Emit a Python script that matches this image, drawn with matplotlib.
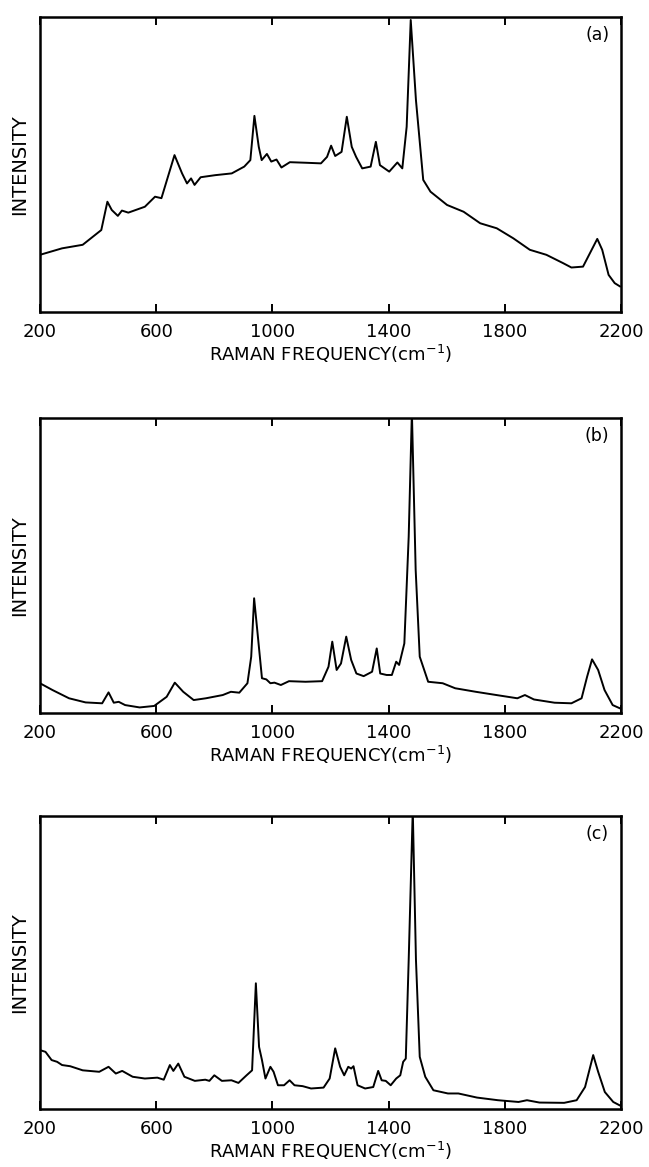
import numpy as np
import matplotlib
matplotlib.use('Agg')
import matplotlib.pyplot as plt

# spectrum (a): raman shift (cm-1) and relative intensity (0 = bottom, 1 = top of frame)
freqA = [200, 276, 347, 411, 432, 447, 468, 482, 504, 561, 596, 618, 663, 689, 706, 720,
         732, 753, 803, 860, 903, 924, 938, 953, 963, 981, 996, 1014, 1031, 1060, 1117,
         1167, 1188, 1202, 1216, 1238, 1256, 1273, 1288, 1309, 1338, 1356, 1370, 1402,
         1430, 1447, 1462, 1476, 1494, 1519, 1544, 1601, 1658, 1715, 1772, 1829, 1886,
         1943, 2000, 2029, 2069, 2093, 2118, 2135, 2157, 2178, 2196]
intA = [0.194, 0.216, 0.228, 0.278, 0.374, 0.346, 0.326, 0.344, 0.337, 0.357, 0.391, 0.386,
        0.532, 0.470, 0.436, 0.453, 0.431, 0.457, 0.464, 0.470, 0.493, 0.515, 0.665, 0.560,
        0.515, 0.536, 0.510, 0.517, 0.490, 0.508, 0.506, 0.504, 0.526, 0.564, 0.529, 0.543,
        0.662, 0.560, 0.526, 0.487, 0.493, 0.577, 0.498, 0.476, 0.507, 0.487, 0.628, 0.99,
        0.718, 0.448, 0.408, 0.363, 0.340, 0.301, 0.284, 0.250, 0.211, 0.194, 0.166, 0.151,
        0.154, 0.200, 0.248, 0.211, 0.126, 0.098, 0.087]

# spectrum (b)
freqB = [200, 243, 300, 357, 414, 436, 454, 471, 493, 543, 593, 636, 664, 693, 729, 771,
         829, 857, 886, 914, 927, 937, 950, 964, 979, 993, 1007, 1029, 1057, 1114, 1171,
         1193, 1206, 1221, 1236, 1254, 1271, 1289, 1314, 1343, 1359, 1371, 1393, 1411,
         1426, 1436, 1454, 1469, 1480, 1493, 1507, 1536, 1586, 1629, 1700, 1771, 1843,
         1869, 1900, 1971, 2029, 2064, 2083, 2100, 2121, 2143, 2171, 2196]
intB = [0.101, 0.078, 0.050, 0.036, 0.033, 0.070, 0.035, 0.038, 0.027, 0.019, 0.024, 0.055,
        0.103, 0.072, 0.044, 0.050, 0.061, 0.072, 0.069, 0.101, 0.191, 0.389, 0.259, 0.118,
        0.114, 0.101, 0.103, 0.095, 0.108, 0.106, 0.108, 0.157, 0.242, 0.146, 0.168, 0.259,
        0.180, 0.134, 0.125, 0.140, 0.219, 0.134, 0.129, 0.129, 0.174, 0.163, 0.236, 0.598,
        1.02, 0.485, 0.191, 0.106, 0.101, 0.084, 0.072, 0.061, 0.050, 0.061, 0.046, 0.035,
        0.033, 0.050, 0.123, 0.182, 0.146, 0.078, 0.027, 0.016]

# spectrum (c)
freqC = [200, 219, 240, 259, 276, 304, 347, 404, 436, 461, 483, 519, 561, 604, 626, 647,
         659, 676, 697, 733, 769, 783, 800, 826, 859, 883, 911, 930, 943, 954, 964, 976,
         993, 1004, 1019, 1040, 1059, 1076, 1104, 1133, 1176, 1197, 1216, 1233, 1247, 1261,
         1271, 1279, 1293, 1319, 1347, 1364, 1376, 1390, 1407, 1426, 1440, 1450, 1459,
         1469, 1483, 1494, 1507, 1526, 1554, 1604, 1640, 1704, 1776, 1847, 1876, 1919,
         2004, 2047, 2076, 2104, 2121, 2144, 2173, 2200]
intC = [0.201, 0.195, 0.167, 0.161, 0.150, 0.146, 0.132, 0.127, 0.144, 0.121, 0.130, 0.110,
        0.104, 0.107, 0.100, 0.150, 0.130, 0.155, 0.110, 0.096, 0.100, 0.096, 0.115, 0.096,
        0.098, 0.089, 0.115, 0.132, 0.429, 0.212, 0.167, 0.104, 0.144, 0.127, 0.081, 0.081,
        0.098, 0.081, 0.078, 0.070, 0.073, 0.104, 0.207, 0.144, 0.115, 0.144, 0.138, 0.146,
        0.081, 0.070, 0.075, 0.130, 0.098, 0.096, 0.081, 0.104, 0.115, 0.161, 0.172, 0.509,
        1.02, 0.509, 0.178, 0.110, 0.064, 0.053, 0.053, 0.039, 0.030, 0.024, 0.030, 0.022,
        0.021, 0.030, 0.075, 0.184, 0.127, 0.058, 0.024, 0.010]

panels = [('(a)', freqA, intA), ('(b)', freqB, intB), ('(c)', freqC, intC)]
xticks = [200, 600, 1000, 1400, 1800, 2200]

# axes boxes in figure fractions: left, bottom, width, height
boxes = [(0.0616, 0.7326, 0.8954, 0.2528),
         (0.0616, 0.3890, 0.8954, 0.2528),
         (0.0616, 0.0497, 0.8954, 0.2511)]

plt.rcParams['font.family'] = ['DejaVu Sans']

def main():
  fig = plt.figure(figsize=(6.49, 11.67), dpi=100)
  for (tag, f, y), box in zip(panels, boxes):
    ax = fig.add_axes(box)
    ax.plot(f, y, color='black', linewidth=1.4)
    ax.set_xlim(200, 2200)
    ax.set_ylim(0, 1)
    ax.set_xticks(xticks)
    ax.set_xticklabels([str(t) for t in xticks], fontsize=13)
    ax.set_yticks([])
    ax.tick_params(axis='x', direction='in', length=6, width=1.4, top=True, pad=8)
    for s in ax.spines.values():
      s.set_linewidth(1.8)
    ax.set_xlabel('RAMAN FREQUENCY(cm$^{-1}$)', fontsize=13, labelpad=1)
    ax.set_ylabel('INTENSITY', fontsize=14, labelpad=8)
    ax.text(0.959, 0.94, tag, transform=ax.transAxes, ha='center', va='center', fontsize=12.5)
  fig.savefig('out.png', dpi=100)

if __name__ == "__main__":
  main()
